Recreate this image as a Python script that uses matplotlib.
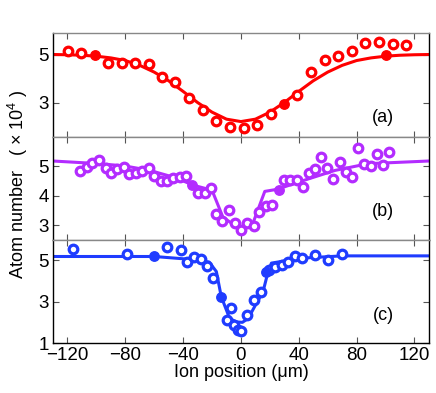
import matplotlib
matplotlib.use("Agg")
import matplotlib.pyplot as plt

plt.rcParams['font.family'] = ['Liberation Sans', 'DejaVu Sans']
plt.rcParams['mathtext.fontset'] = 'custom'
plt.rcParams['mathtext.rm'] = 'Liberation Sans'

# panel (a)
a_x = [-119.7, -110.8, -91.9, -82.6, -73.3, -63.9, -54.6, -45.3, -35.6, -26.4, -17.1, -7.8,
       1.8, 11.1, 20.6, 38.9, 48.6, 57.9, 67.4, 76.7, 86.1, 95.4, 104.9, 114.4]
a_y = [5.15, 5.07, 4.65, 4.66, 4.65, 4.62, 4.06, 3.85, 3.18, 2.72, 2.25, 1.99,
       1.96, 2.09, 2.53, 3.34, 4.29, 4.76, 4.94, 5.13, 5.46, 5.50, 5.44, 5.39]
a_fx = [-101.0, 29.9, 100.5]
a_fy = [4.97, 2.95, 4.96]
a_cx = [-130, -120, -110, -100, -90, -80, -70, -60, -50, -40, -30, -20, -10, 0,
        10, 20, 30, 40, 50, 60, 70, 80, 90, 100, 110, 120, 130]
a_cy = [5.00, 4.99, 4.97, 4.93, 4.86, 4.75, 4.55, 4.27, 3.91, 3.47, 3.01, 2.61, 2.32, 2.22,
        2.32, 2.61, 3.01, 3.47, 3.91, 4.27, 4.55, 4.75, 4.86, 4.93, 4.97, 4.99, 5.00]

# panel (b)
b_x = [-111.3, -106.7, -102.8, -98.1, -93.5, -90.0, -85.4, -80.8, -77.1, -72.4,
       -68.1, -63.9, -59.9, -55.3, -51.1, -46.7, -42.1, -37.9, -29.4, -25.2,
       -21.0, -17.1, -13.2, -8.5, -3.9, 0.3, 4.2, 8.8, 12.5, 17.2,
       21.5, 30.1, 34.0, 38.5, 42.6, 47.0, 51.2, 55.6, 59.7, 63.7,
       68.5, 72.7, 76.7, 81.3, 85.4, 89.9, 94.0, 98.2, 102.4]
b_y = [4.82, 4.97, 5.09, 5.21, 4.94, 4.77, 4.89, 4.97, 4.74, 4.75,
       4.83, 4.94, 4.65, 4.48, 4.48, 4.60, 4.64, 4.65, 4.08, 4.08,
       4.25, 3.39, 3.14, 3.51, 3.06, 2.83, 3.06, 2.97, 3.45, 3.63,
       3.68, 4.51, 4.52, 4.54, 4.29, 4.75, 4.91, 5.31, 4.92, 4.57,
       5.15, 4.81, 4.64, 5.60, 5.06, 5.00, 5.40, 5.02, 5.48]
b_fx = [-33.8, 26.0]
b_fy = [4.35, 4.18]
b_cx = [-130, -98, -80, -63, -45, -33, -20, -12.5, -5.6, 0.3, 8.3, 16.5, 25, 42, 65, 88, 130]
b_cy = [5.17, 5.08, 5.00, 4.85, 4.60, 4.35, 4.18, 3.27, 3.03, 2.85, 3.06, 4.14, 4.21, 4.49, 4.85, 5.08, 5.17]

# panel (c)
c_x = [-116.0, -78.9, -51.1, -41.4, -37.2, -32.6, -27.5, -23.3, -19.0, -9.4,
       -7.2, -4.9, -2.1, 0.3, 4.5, 9.3, 13.6, 19.4, 23.4, 28.1,
       32.8, 37.3, 42.0, 51.2, 60.2, 69.7]
c_y = [5.55, 5.32, 5.63, 5.49, 4.92, 5.16, 5.08, 4.74, 4.17, 2.10,
       2.71, 1.89, 1.65, 1.56, 2.38, 3.10, 3.46, 4.56, 4.70, 4.80,
       4.94, 5.22, 5.10, 5.26, 5.03, 5.30]
c_fx = [-60.3, -14.1, 17.6]
c_fy = [5.19, 3.21, 4.46]
c_cx = [-130, -60, -40, -22, -17, -13.6, -7.8, -3, 1, 5, 10.7, 15.3, 18.8, 21.1, 42, 70, 130]
c_cy = [5.19, 5.19, 5.08, 4.92, 4.46, 3.24, 2.19, 2.02, 2.00, 2.19, 2.92, 3.49, 4.46, 4.87, 5.11, 5.22, 5.22]

panels = [
    (a_x, a_y, a_fx, a_fy, a_cx, a_cy, '#ff0000', (1.6, 5.88), [3, 5], '(a)', 0.18),
    (b_x, b_y, b_fx, b_fy, b_cx, b_cy, '#b32cff', (2.5, 6.0), [3, 4, 5], '(b)', 0.27),
    (c_x, c_y, c_fx, c_fy, c_cx, c_cy, '#1f3cff', (1.0, 6.0), [1, 3, 5], '(c)', 0.27),
]

fig = plt.figure(figsize=(4.36, 3.93), dpi=100)
left, width = 0.1216, 0.862
h = 0.2627
bottoms = [0.1272 + 2 * h, 0.1272 + h, 0.1272]
xticks = [-120, -80, -40, 0, 40, 80, 120]

for i, (px, py, fx, fy, cx, cy, col, ylim, yt, lab, ly) in enumerate(panels):
    ax = fig.add_axes([left, bottoms[i], width, h])
    ax.plot(cx, cy, color=col, lw=2.2, zorder=2)
    ax.plot(px, py, 'o', mfc='white', mec=col, mew=2.3, ms=6.2, ls='none', zorder=3)
    ax.plot(fx, fy, 'o', color=col, ms=6.8, ls='none', zorder=4)
    ax.set_xlim(-130, 130)
    ax.set_ylim(*ylim)
    ax.set_xticks(xticks)
    ax.set_yticks(yt)
    ax.tick_params(direction='in', top=True, right=True, length=4, width=0.8,
                   labelsize=13.5, color='#555555', pad=3)
    if i < 2:
        ax.tick_params(labelbottom=False)
        ax.spines['bottom'].set_color('#888888')
    ax.spines['top'].set_color('#888888')
    for s in ax.spines.values():
        s.set_linewidth(1.0)
    ax.text(0.878, ly, lab, transform=ax.transAxes, fontsize=13,
            ha='center', va='center')
    if i == 2:
        ax.set_xlabel('Ion position (μm)', fontsize=13, labelpad=0)

fig.text(0.042, 0.53, 'Atom number   ( $\\times$ 10$^4$ )', rotation=90,
         fontsize=13, ha='center', va='center')

fig.savefig('out.png', dpi=100)
